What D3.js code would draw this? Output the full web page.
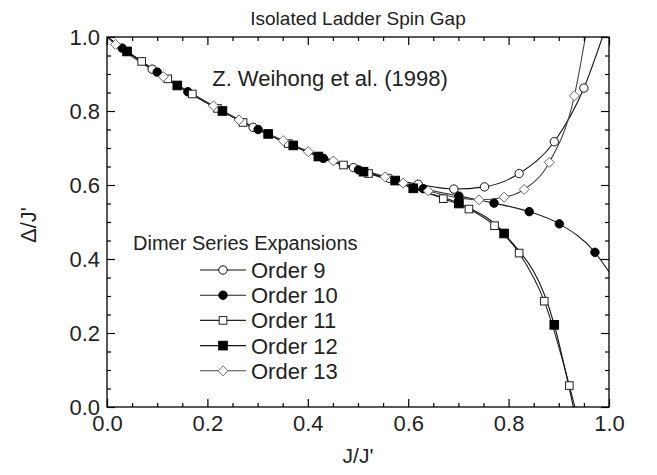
<!DOCTYPE html>
<html><head><meta charset="utf-8">
<script src="https://cdn.jsdelivr.net/npm/d3@7"></script>
<style>
html,body{margin:0;padding:0;background:#fff;}
text{font-family:"Liberation Sans",Arial,sans-serif;fill:#222;}
</style></head>
<body><svg id="c" width="657" height="475"></svg>
<script>
// ---------- data ----------
const title = "Isolated Ladder Spin Gap";
const note = "Z. Weihong et al. (1998)";
const legendTitle = "Dimer Series Expansions";
const xLabel = "J/J'";
const yLabel = "\u0394/J'";
const majorTicks = [0, 0.2, 0.4, 0.6, 0.8, 1.0];
const tickLabels = ["0.0", "0.2", "0.4", "0.6", "0.8", "1.0"];
const minorTicks = [0.05,0.1,0.15,0.25,0.3,0.35,0.45,0.5,0.55,0.65,0.7,0.75,0.85,0.9,0.95];

const seriesNames = ["Order 9", "Order 10", "Order 11", "Order 12", "Order 13"];

// marker points
const order9X  = [0.090,0.291,0.491,0.562,0.620,0.691,0.752,0.821,0.891,0.950];
const order9Y  = [0.913,0.756,0.647,0.618,0.602,0.589,0.595,0.631,0.717,0.862];
const order10X = [0.030,0.100,0.161,0.301,0.431,0.501,0.630,0.701,0.771,0.841,0.901,0.972];
const order10Y = [0.970,0.905,0.852,0.750,0.672,0.641,0.590,0.570,0.551,0.528,0.495,0.418];
const order11X = [0.069,0.121,0.170,0.220,0.271,0.361,0.471,0.521,0.670,0.721,0.772,0.821,0.871,0.921];
const order11Y = [0.934,0.887,0.846,0.807,0.769,0.712,0.654,0.631,0.563,0.535,0.490,0.416,0.286,0.058];
const order12X = [0.040,0.140,0.230,0.321,0.371,0.421,0.511,0.574,0.610,0.701,0.791,0.891];
const order12Y = [0.961,0.869,0.800,0.738,0.707,0.677,0.636,0.612,0.591,0.550,0.469,0.222];
const order13X = [0.017,0.112,0.212,0.263,0.351,0.401,0.451,0.554,0.590,0.640,0.741,0.791,0.831,0.881,0.931];
const order13Y = [0.980,0.893,0.814,0.776,0.720,0.690,0.665,0.622,0.605,0.584,0.560,0.567,0.588,0.661,0.841];

// curve start / end points (where each curve leaves the frame)
const lineStart = [0, 1.0];
const order9End  = [0.987, 1.0];
const order10End = [1.0, 0.365];
const order11End = [0.932, 0.0];
const order12End = [0.929, 0.0];
const order13End = [0.953, 1.0];

// ---------- build ----------
const series = [
  {name: seriesNames[0], xs: order9X,  ys: order9Y,  end: order9End,  sym: "circle",  fill: "#fff", stroke: "#111", line: "#111"},
  {name: seriesNames[1], xs: order10X, ys: order10Y, end: order10End, sym: "circle",  fill: "#000", stroke: "#000", line: "#222"},
  {name: seriesNames[2], xs: order11X, ys: order11Y, end: order11End, sym: "square",  fill: "#fff", stroke: "#222", line: "#222"},
  {name: seriesNames[3], xs: order12X, ys: order12Y, end: order12End, sym: "square",  fill: "#000", stroke: "#000", line: "#111"},
  {name: seriesNames[4], xs: order13X, ys: order13Y, end: order13End, sym: "diamond", fill: "#fff", stroke: "#666", line: "#444"}
];

const svg = d3.select("#c");
svg.append("rect").attr("width",657).attr("height",475).attr("fill","#fff");
const x = d3.scaleLinear().domain([0,1]).range([107,609]);
const y = d3.scaleLinear().domain([0,1]).range([407,37]);

svg.append("clipPath").attr("id","clip").append("rect")
  .attr("x",x(0)).attr("y",y(1)).attr("width",x(1)-x(0)).attr("height",y(0)-y(1));

// lines
const lineGen = d3.line().x(d=>x(d[0])).y(d=>y(d[1])).curve(d3.curveMonotoneX);
const plot = svg.append("g").attr("clip-path","url(#clip)");
series.forEach(s=>{
  const pts = [lineStart].concat(s.xs.map((v,i)=>[v,s.ys[i]])).concat([s.end]);
  plot.append("path").datum(pts).attr("d",lineGen)
    .attr("fill","none").attr("stroke",s.line).attr("stroke-width",1.1);
});

function marker(g, s, cx, cy){
  if(s.sym==="circle"){
    g.append("circle").attr("cx",cx).attr("cy",cy).attr("r",4.2)
      .attr("fill",s.fill).attr("stroke",s.stroke).attr("stroke-width",1);
  } else if(s.sym==="square"){
    const h = s.fill==="#000"?4.3:3.8;
    g.append("rect").attr("x",cx-h).attr("y",cy-h).attr("width",2*h).attr("height",2*h)
      .attr("fill",s.fill).attr("stroke",s.stroke).attr("stroke-width",1);
  } else {
    const r = 5;
    g.append("path").attr("d",`M${cx},${cy-r}L${cx+r},${cy}L${cx},${cy+r}L${cx-r},${cy}Z`)
      .attr("fill",s.fill).attr("stroke",s.stroke).attr("stroke-width",1);
  }
}
const mk = svg.append("g");
series.forEach(s=>{
  s.xs.forEach((v,i)=>marker(mk, s, x(v), y(s.ys[i])));
});

// axes
const fs = 22;
function styleAxis(g){ g.select(".domain").remove(); g.selectAll("line").attr("stroke","#000").attr("stroke-width",1.2); }
svg.append("g").attr("transform",`translate(0,${y(0)})`)
  .call(d3.axisBottom(x).tickValues(majorTicks).tickSize(-8).tickPadding(8).tickFormat((d,i)=>tickLabels[i]))
  .call(styleAxis).selectAll("text").attr("font-size",fs).attr("fill","#222").attr("font-family","Liberation Sans, Arial, sans-serif");
svg.append("g").attr("transform",`translate(0,${y(0)})`)
  .call(d3.axisBottom(x).tickValues(minorTicks).tickSize(-4).tickFormat(""))
  .call(styleAxis);
svg.append("g").attr("transform",`translate(0,${y(1)})`)
  .call(d3.axisTop(x).tickValues(majorTicks).tickSize(-8).tickFormat(""))
  .call(styleAxis);
svg.append("g").attr("transform",`translate(0,${y(1)})`)
  .call(d3.axisTop(x).tickValues(minorTicks).tickSize(-4).tickFormat(""))
  .call(styleAxis);
svg.append("g").attr("transform",`translate(${x(0)},0)`)
  .call(d3.axisLeft(y).tickValues(majorTicks).tickSize(-8).tickPadding(7).tickFormat((d,i)=>tickLabels[i]))
  .call(styleAxis).selectAll("text").attr("font-size",fs).attr("fill","#222").attr("font-family","Liberation Sans, Arial, sans-serif");
svg.append("g").attr("transform",`translate(${x(0)},0)`)
  .call(d3.axisLeft(y).tickValues(minorTicks).tickSize(-4).tickFormat(""))
  .call(styleAxis);
svg.append("g").attr("transform",`translate(${x(1)},0)`)
  .call(d3.axisRight(y).tickValues(majorTicks).tickSize(-8).tickFormat(""))
  .call(styleAxis);
svg.append("g").attr("transform",`translate(${x(1)},0)`)
  .call(d3.axisRight(y).tickValues(minorTicks).tickSize(-4).tickFormat(""))
  .call(styleAxis);
svg.append("rect").attr("x",x(0)).attr("y",y(1)).attr("width",x(1)-x(0)).attr("height",y(0)-y(1))
  .attr("fill","none").attr("stroke","#000").attr("stroke-width",1.3);

// texts
svg.append("text").attr("x",(x(0)+x(1))/2).attr("y",25).attr("text-anchor","middle").attr("font-size",19).text(title);
svg.append("text").attr("x",(x(0)+x(1))/2).attr("y",463).attr("text-anchor","middle").attr("font-size",21).text(xLabel);
svg.append("text").attr("transform",`translate(36,225) rotate(-90)`).attr("text-anchor","middle").attr("font-size",22).text(yLabel);
svg.append("text").attr("x",330).attr("y",86).attr("text-anchor","middle").attr("font-size",22).text(note);
svg.append("text").attr("x",133).attr("y",250).attr("font-size",20).text(legendTitle);

// legend
const lg = svg.append("g");
series.forEach((s,i)=>{
  const ly = 270 + i*25.2;
  lg.append("line").attr("x1",200).attr("x2",246).attr("y1",ly).attr("y2",ly).attr("stroke",s.line).attr("stroke-width",1.1);
  marker(lg, s, 223, ly);
  lg.append("text").attr("x",251).attr("y",ly).attr("dy","0.36em").attr("font-size",22).text(s.name);
});
</script></body></html>
